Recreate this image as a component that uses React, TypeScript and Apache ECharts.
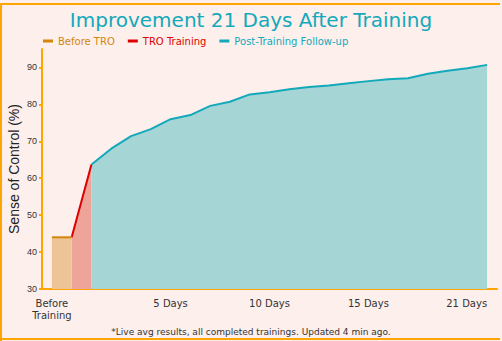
import React, { useEffect, useRef } from "react";
import * as echarts from "echarts";

const categories = [
  "Before\nTraining", "", "", "", "", "", "5 Days", "", "", "", "", "10 Days",
  "", "", "", "", "15 Days", "", "", "", "", "", "21 Days",
];
const beforeValues: (number | string)[] = [44, 44];
const troValues: (number | string)[] = ["-", 44, 63.7];
const postValues: (number | string)[] = [
  "-", "-", 63.7, 68.0, 71.4, 73.3, 76.0, 77.1, 79.6, 80.7, 82.7, 83.3, 84.1,
  84.7, 85.1, 85.7, 86.3, 86.8, 87.1, 88.3, 89.1, 89.8, 90.7,
];
const yTicks = [30, 40, 50, 60, 70, 80, 90];
const seriesNames = ["Before TRO", "TRO Training", "Post-Training Follow-up"];

const ORANGE = "#ffa500";
const BEFORE_LINE = "#d4860b";
const TRO_LINE = "#dd0000";
const POST_LINE = "#13a9bb";
const VERDANA = "DejaVu Sans, Verdana, sans-serif";
const ARIAL = "Liberation Sans, Arial, sans-serif";

export default function App() {
  const ref = useRef<HTMLDivElement>(null);
  useEffect(() => {
    document.body.style.margin = "0";
    const chart = echarts.init(ref.current!, null, { renderer: "svg" });
    chart.setOption({
      animation: false,
      backgroundColor: "#fdefec",
      title: {
        text: "Improvement 21 Days After Training",
        left: "center",
        top: 5,
        textStyle: { fontFamily: VERDANA, fontSize: 20, fontWeight: "normal", color: POST_LINE },
      },
      legend: {
        left: 43,
        top: 36,
        padding: 0,
        icon: "rect",
        itemWidth: 10,
        itemHeight: 3,
        itemGap: 13,
        textStyle: { fontFamily: VERDANA, fontSize: 10 },
        data: [
          { name: seriesNames[0], textStyle: { color: BEFORE_LINE } },
          { name: seriesNames[1], textStyle: { color: TRO_LINE } },
          { name: seriesNames[2], textStyle: { color: POST_LINE } },
        ],
      },
      grid: { left: 42, right: 5, top: 49, bottom: 52, outerBoundsMode: "none", containLabel: false },
      xAxis: {
        type: "category",
        data: categories,
        boundaryGap: true,
        axisLine: { lineStyle: { color: ORANGE, width: 2 } },
        axisTick: { alignWithLabel: true, interval: 0, length: 4, lineStyle: { color: ORANGE, width: 2 } },
        axisLabel: {
          interval: 0,
          margin: 8,
          color: "#333",
          fontFamily: VERDANA,
          fontSize: 10,
          lineHeight: 12,
          alignMaxLabel: "right",
        },
        splitLine: { show: false },
      },
      yAxis: {
        type: "value",
        min: 30,
        max: 95,
        interval: 10,
        name: "Sense of Control (%)",
        nameLocation: "middle",
        nameGap: 21,
        nameMoveOverlap: false,
        nameTextStyle: { fontFamily: ARIAL, fontSize: 14, color: "#222" },
        axisLine: { show: true, lineStyle: { color: ORANGE, width: 2 } },
        axisTick: { show: true, length: 3, customValues: yTicks, lineStyle: { color: ORANGE, width: 2 } },
        axisLabel: { customValues: yTicks, margin: 5, color: "#333", fontFamily: ARIAL, fontSize: 9 },
        splitLine: { show: false },
      },
      series: [
        {
          name: seriesNames[0],
          type: "line",
          data: beforeValues,
          showSymbol: false,
          symbol: "none",
          lineStyle: { color: BEFORE_LINE, width: 2 },
          itemStyle: { color: BEFORE_LINE },
          areaStyle: { color: "#ecc496", opacity: 1 },
          z: 3,
        },
        {
          name: seriesNames[1],
          type: "line",
          data: troValues,
          showSymbol: false,
          symbol: "none",
          lineStyle: { color: TRO_LINE, width: 2 },
          itemStyle: { color: TRO_LINE },
          areaStyle: { color: "#eea498", opacity: 1 },
          z: 2,
        },
        {
          name: seriesNames[2],
          type: "line",
          data: postValues,
          showSymbol: false,
          symbol: "none",
          lineStyle: { color: POST_LINE, width: 2 },
          itemStyle: { color: POST_LINE },
          areaStyle: { color: "#a6d5d5", opacity: 1 },
          z: 2,
        },
      ],
      graphic: [
        {
          type: "text",
          left: "center",
          top: 327,
          style: {
            text: "*Live avg results, all completed trainings. Updated 4 min ago.",
            fontFamily: VERDANA,
            fontSize: 9,
            fill: "#333",
          },
        },
        { type: "line", shape: { x1: 0, y1: 4, x2: 500, y2: 4 }, style: { stroke: ORANGE, lineWidth: 2 } },
        { type: "line", shape: { x1: 1, y1: 3, x2: 1, y2: 341 }, style: { stroke: ORANGE, lineWidth: 2 } },
        { type: "line", shape: { x1: 0, y1: 339, x2: 500, y2: 339 }, style: { stroke: ORANGE, lineWidth: 2 } },
      ],
    });
    return () => chart.dispose();
  }, []);
  return <div ref={ref} style={{ width: 502, height: 341 }} />;
}
